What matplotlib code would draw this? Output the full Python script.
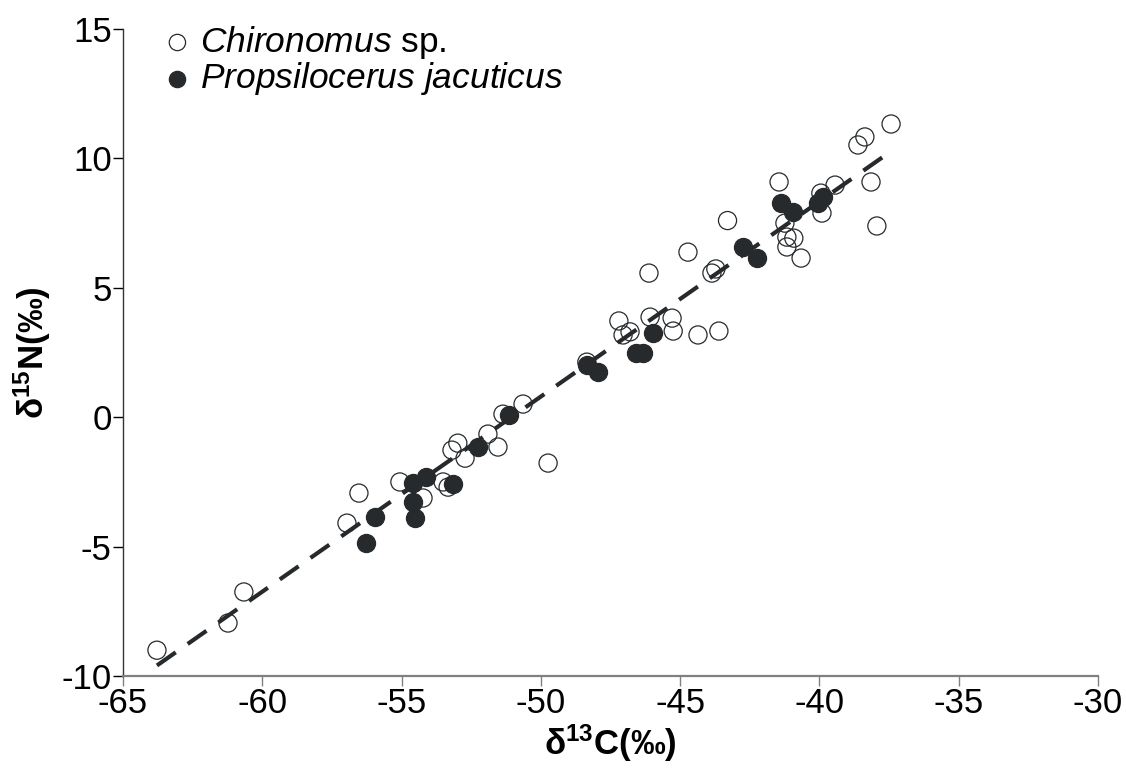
"""Scatter of d13C vs d15N for two chironomid taxa with a linear fit."""
import numpy as np
import matplotlib
matplotlib.use("Agg")
import matplotlib.pyplot as plt

plt.rcParams["font.family"] = ["Liberation Sans", "DejaVu Sans"]
plt.rcParams["axes.unicode_minus"] = False
plt.rcParams["mathtext.fontset"] = "custom"
plt.rcParams["mathtext.rm"] = "Liberation Sans"
plt.rcParams["mathtext.it"] = "Liberation Sans:italic"
plt.rcParams["mathtext.bf"] = "Liberation Sans:bold"

# Chironomus sp. (open circles)
chir_c = [-63.78, -61.23, -60.66, -56.96, -56.53, -55.06, -54.23, -53.51, -53.33,
          -53.19, -52.98, -52.72, -51.90, -51.54, -51.36, -50.64, -49.74, -48.35,
          -47.20, -47.05, -46.80, -46.12, -46.08, -45.29, -45.25, -44.72, -44.36,
          -43.86, -43.72, -43.61, -43.30, -41.45, -41.24, -41.17, -41.17, -40.92,
          -40.66, -39.95, -39.91, -39.44, -38.62, -38.37, -38.15, -37.94, -37.43]
chir_n = [-9.00, -7.95, -6.75, -4.09, -2.93, -2.50, -3.12, -2.50, -2.70,
          -1.27, -1.00, -1.58, -0.65, -1.15, 0.12, 0.51, -1.77, 2.13,
          3.72, 3.18, 3.30, 5.57, 3.87, 3.83, 3.33, 6.38, 3.18,
          5.57, 5.73, 3.33, 7.60, 9.09, 7.50, 6.96, 6.58, 6.92,
          6.15, 8.66, 7.89, 8.97, 10.52, 10.83, 9.09, 7.39, 11.33]

# Propsilocerus jacuticus (filled circles)
prop_c = [-56.28, -55.95, -54.59, -54.12, -54.59, -54.52, -53.15, -52.26, -51.14,
          -48.35, -47.95, -46.59, -46.34, -45.98, -42.75, -42.24, -41.38, -40.95,
          -40.05, -39.87]
prop_n = [-4.86, -3.86, -2.54, -2.31, -3.28, -3.90, -2.58, -1.15, 0.08,
          2.02, 1.75, 2.48, 2.48, 3.25, 6.58, 6.15, 8.28, 7.93,
          8.28, 8.51]

# regression line as drawn in the figure
fit_slope = 0.754
fit_intercept = 38.5

x_ticks = [-65, -60, -55, -50, -45, -40, -35, -30]
y_ticks = [-10, -5, 0, 5, 10, 15]

dark = "#262a2c"

fig = plt.figure(figsize=(11.26, 7.78), dpi=100)
ax = fig.add_axes([0.1092, 0.131, 0.8660, 0.8317])

ax.scatter(chir_c, chir_n, s=170, facecolors="none", edgecolors=dark,
           linewidths=0.9, zorder=3, label=r"$\mathit{Chironomus}$ sp.")
ax.scatter(prop_c, prop_n, s=170, facecolors=dark, edgecolors=dark,
           linewidths=0.9, zorder=3, label=r"$\mathit{Propsilocerus\ jacuticus}$")

all_c = np.array(chir_c + prop_c)
xs = np.array([all_c.min(), all_c.max()])
ax.plot(xs, fit_slope * xs + fit_intercept, color=dark, lw=3.0,
        dashes=(5.5, 3.5), zorder=4)

ax.set_xlim(-65, -30)
ax.set_ylim(-10, 15)
ax.set_xticks(x_ticks)
ax.set_yticks(y_ticks)
ax.tick_params(labelsize=25, length=7, width=1, direction="out", pad=1,
               colors="black")
ax.tick_params(axis="x", colors="#808080", labelcolor="black")
for s in ("top", "right"):
    ax.spines[s].set_visible(False)
ax.spines["bottom"].set_color("#808080")
ax.spines["bottom"].set_linewidth(1.6)
ax.spines["left"].set_color("#333333")
ax.spines["left"].set_linewidth(1.0)

ax.set_xlabel(r"δ$\mathbf{^{13}}$C(‰)", fontsize=25, fontweight="bold", labelpad=2)
ax.set_ylabel(r"δ$\mathbf{^{15}}$N(‰)", fontsize=25, fontweight="bold", labelpad=6)

leg = ax.legend(loc="upper left", bbox_to_anchor=(0.005, 1.03), frameon=False,
                fontsize=25.5, handletextpad=-0.35, labelspacing=-0.02,
                borderaxespad=0, markerscale=0.9)

fig.savefig("out.png", dpi=100)
